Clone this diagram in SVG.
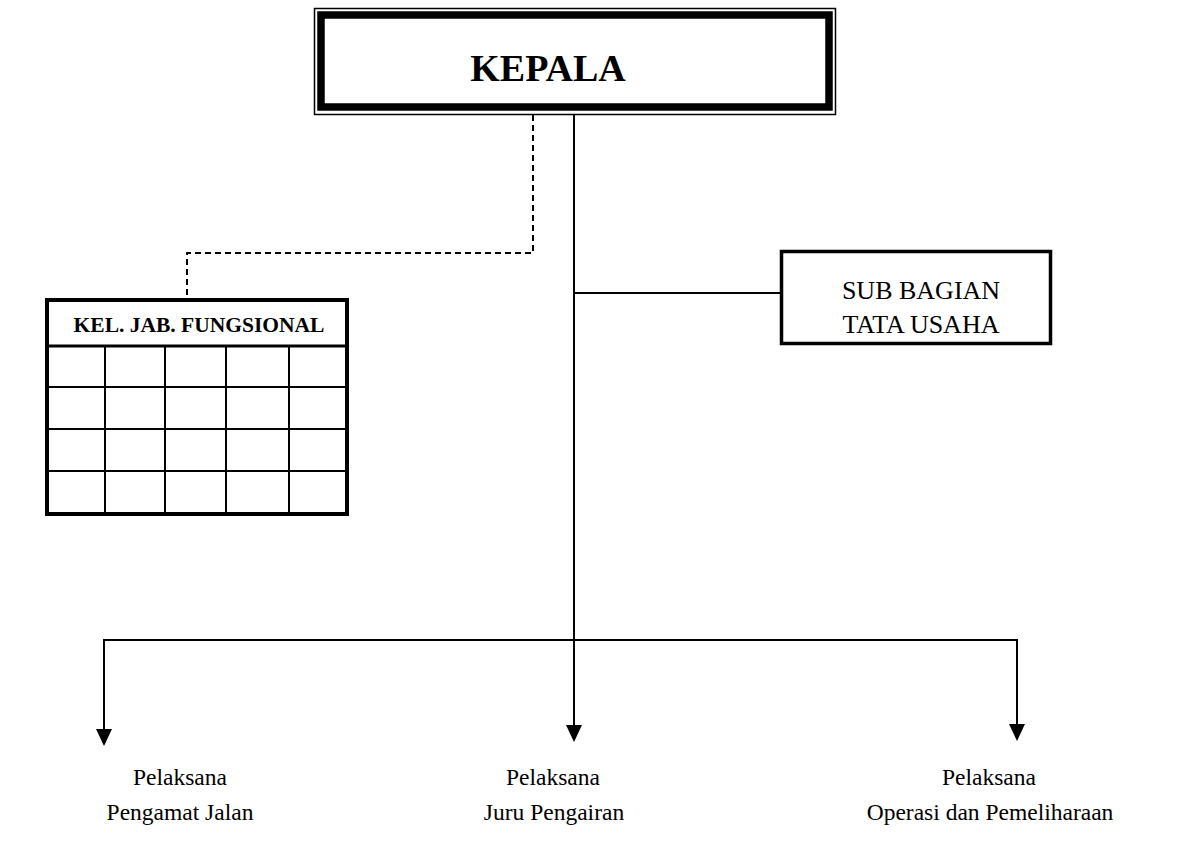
<svg xmlns="http://www.w3.org/2000/svg" width="1191" height="862" viewBox="0 0 1191 862">
<style>
.t{font-family:"Liberation Serif","Times New Roman",serif;fill:#000}
.b{font-weight:bold}
.ln{stroke:#000;fill:none}
.ah{fill:#000}
</style>
<rect width="1191" height="862" fill="#fff"/>
<g id="connectors">
<path class="ln" stroke-width="2" stroke-dasharray="6,4" d="M533,115 V253 H187 V299"/>
<path class="ln" stroke-width="2" d="M574,115 V726"/>
<path class="ln" stroke-width="2" d="M574,293 H780"/>
<path class="ln" stroke-width="2" d="M104,729 V640 H1017 V724"/>
<polygon class="ah" points="566,725 582,725 574,742"/>
<polygon class="ah" points="96,729 112,729 104,746"/>
<polygon class="ah" points="1009,724 1025,724 1017,741"/>
</g>
<g id="kepala">
<rect x="314.5" y="8.5" width="521" height="106" fill="#fff" stroke="#000" stroke-width="1.5"/>
<rect x="321" y="15" width="508" height="92" fill="none" stroke="#000" stroke-width="7.5"/>
<text class="t b" x="548" y="81" font-size="38" text-anchor="middle">KEPALA</text>
</g>
<g id="subbagian">
<rect x="781.5" y="251.5" width="269" height="92" fill="#fff" stroke="#000" stroke-width="3.5"/>
<text class="t" x="921" y="299" font-size="26" text-anchor="middle">SUB BAGIAN</text>
<text class="t" x="921" y="333" font-size="26" text-anchor="middle">TATA USAHA</text>
</g>
<g id="fungsional">
<rect x="47" y="300" width="300" height="214" fill="#fff" stroke="#000" stroke-width="4"/>
<path class="ln" stroke-width="3" d="M47,346 H347"/>
<path class="ln" stroke-width="2" d="M47,387 H347 M47,429 H347 M47,471 H347 M105,346 V514 M165,346 V514 M226,346 V514 M289,346 V514"/>
<text class="t b" x="199" y="332" font-size="21.5" text-anchor="middle">KEL. JAB. FUNGSIONAL</text>
</g>
<g id="pelaksana1">
<text class="t" x="180" y="785" font-size="23.5" text-anchor="middle">Pelaksana</text>
<text class="t" x="180" y="820" font-size="23.5" text-anchor="middle">Pengamat Jalan</text>
</g>
<g id="pelaksana2">
<text class="t" x="553" y="785" font-size="23.5" text-anchor="middle">Pelaksana</text>
<text class="t" x="554" y="820" font-size="23.5" text-anchor="middle">Juru Pengairan</text>
</g>
<g id="pelaksana3">
<text class="t" x="989" y="785" font-size="23.5" text-anchor="middle">Pelaksana</text>
<text class="t" x="990" y="820" font-size="23.5" text-anchor="middle">Operasi dan Pemeliharaan</text>
</g>
</svg>
